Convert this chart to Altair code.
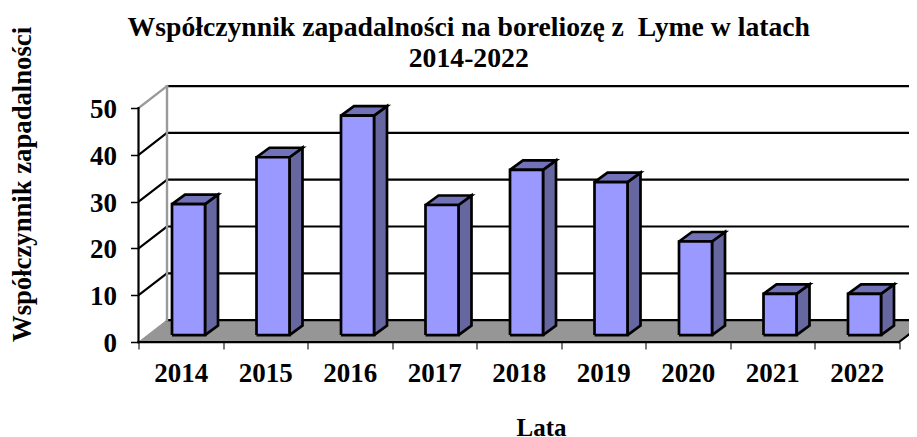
import altair as alt
import pandas as pd

YEARS = [2014, 2015, 2016, 2017, 2018, 2019, 2020, 2021, 2022]
VALUES = [28, 38, 46.9, 27.8, 35.3, 32.7, 20, 8.8, 8.8]
Y_TICKS = [0, 10, 20, 30, 40, 50]
TITLE = ["Współczynnik zapadalności na boreliozę z \u00a0Lyme w latach", "2014-2022"]
Y_TITLE = "Współczynnik zapadalności"
X_TITLE = "Lata"

FONT = "Liberation Serif"
PX_X = 84.5      # pixels per category
PX_Y = 4.68      # pixels per value unit
DEPTH_X = 28.5 / PX_X
DEPTH_Y = 22 / PX_Y
X_MAX = 770.5 / PX_X
Y_MAX = 56.0
BAR_LEFT = 33.5 / PX_X
BAR_W = 33 / PX_X
BAR_BASE = 7 / PX_Y
BAR_DX = 13 / PX_X
BAR_DY = 9.5 / PX_Y

n = len(YEARS)
x_scale = alt.Scale(domain=[0, X_MAX], nice=False, zero=False)
y_scale = alt.Scale(domain=[0, Y_MAX], nice=False, zero=False)
X = alt.X("x:Q", scale=x_scale, title=X_TITLE, axis=alt.Axis(
    values=[k / 2 for k in range(2 * n + 1)],
    labelExpr="datum.value % 1 == 0 ? '' : '' + " + str(YEARS) + "[floor(datum.value)]",
    labelFont=FONT, labelFontSize=27, labelFontWeight="bold", labelColor="black",
    labelPadding=11, labelOverlap=False, labelFlush=False, grid=False, domain=False,
    tickColor="#222222", tickWidth=1.2, tickSize=7,
    tickOpacity={"condition": {"test": "datum.value % 1 == 0", "value": 1}, "value": 0},
    titleFont=FONT, titleFontSize=25, titleFontWeight="bold", titleColor="black",
    titleX=402.5, titleY=73, titleAnchor="middle"))
Y = alt.Y("y:Q", scale=y_scale, title=Y_TITLE, axis=alt.Axis(
    values=Y_TICKS, labelFont=FONT, labelFontSize=27, labelFontWeight="bold",
    labelColor="black", labelPadding=14, labelOffset=1.5, grid=False, domain=False,
    tickColor="black", tickWidth=1.5, tickSize=8,
    titleFont=FONT, titleFontSize=26.7, titleFontWeight="bold", titleColor="black",
    titleX=-102, titleY=104, titleAnchor="middle"))


def poly_frame(polys):
    rows = []
    for pid, pts in enumerate(polys):
        for i, (px, py) in enumerate(pts):
            rows.append({"id": pid, "o": i, "x": px, "y": py})
    return pd.DataFrame(rows)


def lines(polys, color, width, clip=True):
    return alt.Chart(poly_frame(polys)).mark_line(
        color=color, strokeWidth=width, clip=clip, strokeCap="square"
    ).encode(x=X, y=Y, detail="id:N", order="o:Q")


def fills(polys, fill, width=2.7):
    return alt.Chart(poly_frame(polys)).mark_line(
        fill=fill, stroke="black", strokeWidth=width, strokeJoin="miter"
    ).encode(x=X, y=Y, detail="id:N", order="o:Q")


floor = alt.Chart(poly_frame([[(0, 0), (9, 0), (9 + DEPTH_X, DEPTH_Y), (DEPTH_X, DEPTH_Y), (0, 0)]])).mark_line(
    fill="#969696", stroke="#969696", strokeWidth=1, clip=True
).encode(x=X, y=Y, detail="id:N", order="o:Q")

grid_h = lines([[(DEPTH_X, v + DEPTH_Y), (X_MAX + 1, v + DEPTH_Y)] for v in Y_TICKS], "black", 2.2)
grid_d = lines([[(0, v), (DEPTH_X, v + DEPTH_Y)] for v in Y_TICKS[1:-1]], "black", 2.2)
wall = lines([[(DEPTH_X, DEPTH_Y), (DEPTH_X, 50 + DEPTH_Y)],
              [(0, 50), (DEPTH_X, 50 + DEPTH_Y)]], "#9a9a9a", 2.4)
front_y = lines([[(0, 0), (0, 50)]], "black", 2.2, clip=False)
front_x = lines([[(0, 0), (9, 0)], [(9, 0), (9 + DEPTH_X, DEPTH_Y)]], "black", 2.2, clip=False)

sides, tops, fronts = [], [], []
for i, v in enumerate(VALUES):
    x0 = i + BAR_LEFT
    x1 = x0 + BAR_W
    b = BAR_BASE
    t = BAR_BASE + v
    sides.append([(x1, b), (x1 + BAR_DX, b + BAR_DY), (x1 + BAR_DX, t + BAR_DY), (x1, t), (x1, b)])
    tops.append([(x0, t), (x1, t), (x1 + BAR_DX, t + BAR_DY), (x0 + BAR_DX, t + BAR_DY), (x0, t)])
    fronts.append([(x0, b), (x1, b), (x1, t), (x0, t), (x0, b)])

chart = alt.layer(
    floor, grid_h, grid_d, wall, front_y, front_x,
    fills(sides, "#6666a0"), fills(tops, "#7272b8"), fills(fronts, "#9999ff"),
).properties(
    width=770.5,
    height=Y_MAX * PX_Y,
    padding={"left": 130.5, "top": 72, "right": 0, "bottom": 95},
    autosize=alt.AutoSizeParams(type="none"),
    title=alt.TitleParams(
        text=TITLE, font=FONT, fontSize=27.7, fontWeight="bold", color="black",
        anchor="middle", frame="group", dx=-55, dy=52, offset=6, lineHeight=31),
).configure_view(stroke=None)

chart.save("out.html", embed_options={"renderer": "svg", "actions": False})
